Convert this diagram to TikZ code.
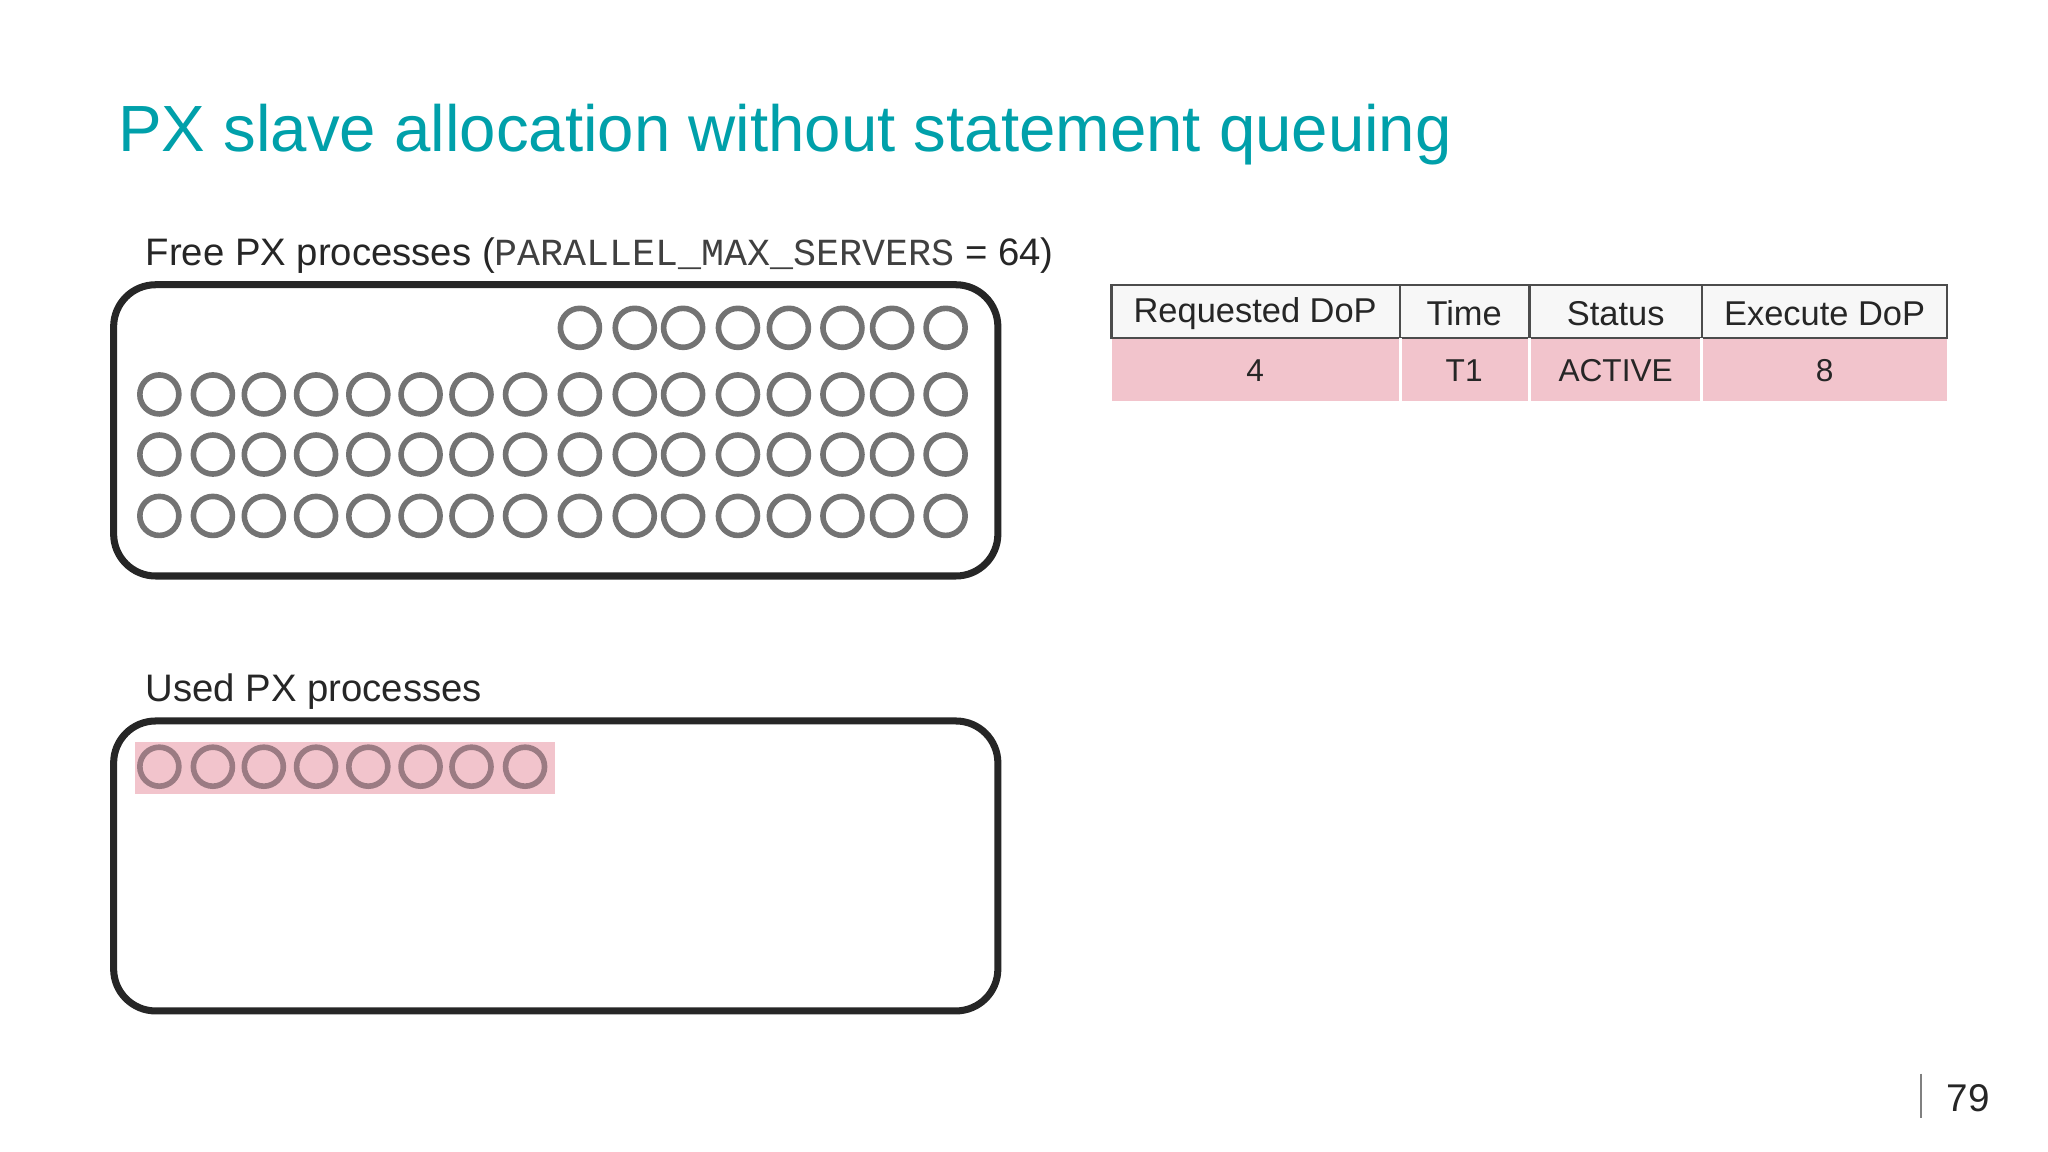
\documentclass[tikz,border=0pt]{standalone}
\usepackage{fontspec}
\setmainfont{Liberation Sans}
\setmonofont{Liberation Mono}
\usetikzlibrary{positioning}
\definecolor{teal}{RGB}{0,160,170}
\definecolor{pinkfill}{RGB}{242,196,204}
\definecolor{pinkline}{RGB}{130,90,100}
\tikzset{px/.style={circle,draw=black!55,line width=1.6pt,minimum size=0.39cm,inner sep=0pt},
  pool/.style={draw=black!85,line width=2pt,rounded corners=0.42cm},
  cell/.style={font=\fontsize{9.8}{12}\selectfont,anchor=center,text=black!85},
  lbl/.style={anchor=base west,inner sep=0pt,font=\fontsize{10.9}{13}\selectfont,text=black!85}}
\begin{document}
\begin{tikzpicture}[x=0.01306cm,y=-0.01306cm]
\useasboundingbox (0,0) rectangle (1568,882);
% title
\node[anchor=base west,inner sep=0pt,text=teal,font=\fontsize{18.6}{22}\selectfont] (title) at (90,116) {PX slave allocation without statement queuing};
% free pool
\node[lbl] (freelbl) at (111,203) {Free PX processes ({\ttfamily\color{black!75}PARALLEL\_MAX\_SERVERS} = 64)};
\draw[pool] (87,218) rectangle (764,441);
\foreach \x [count=\i] in {122,163,202,242,282,322,361,402,444,486,523,565,604,645,683,724}{
  \ifnum\i>8 \node[px] (f0-\i) at (\x,251) {};\fi
  \node[px] (f1-\i) at (\x,302) {};
  \node[px] (f2-\i) at (\x,348) {};
  \node[px] (f3-\i) at (\x,395) {};
}
% used pool
\node[lbl] (usedlbl) at (111,537) {Used PX processes};
\draw[pool] (87,552) rectangle (764,774);
\fill[pinkfill] (103,568) rectangle (425,608);
\foreach \x [count=\i] in {122,163,202,242,282,322,361,402}
  \node[px,fill=pinkfill,draw=pinkline!80] (u-\i) at (\x,587) {};
% table
\fill[pinkfill] (851,259) rectangle (1491,307);
\draw[draw=black!70,line width=0.6pt,fill=black!3] (851,218) rectangle (1491,259);
\foreach \a/\b in {1072/1,1171/2,1303/3}{
  \draw[draw=black!70,line width=0.6pt] (\a,218) -- (\a,259);
  \draw[white,line width=0.8pt] (\a,259) -- (\a,307);
}
\node[cell] (h1) at (961,240) {Requested DoP};
\node[cell] (h2) at (1121,240) {Time};
\node[cell] (h3) at (1237,240) {Status};
\node[cell] (h4) at (1397,240) {Execute DoP};
\node[cell,font=\fontsize{9}{11}\selectfont] (r1) at (961,284) {4};
\node[cell,font=\fontsize{9}{11}\selectfont] (r2) at (1121,284) {T1};
\node[cell,font=\fontsize{9}{11}\selectfont] (r3) at (1237,284) {ACTIVE};
\node[cell,font=\fontsize{9}{11}\selectfont] (r4) at (1397,284) {8};
% page number
\draw[black!50,line width=0.6pt] (1471,822) -- (1471,856);
\node[anchor=base west,inner sep=0pt,font=\fontsize{11}{13}\selectfont,text=black!85] (page) at (1490,851) {79};
\end{tikzpicture}
\end{document}
